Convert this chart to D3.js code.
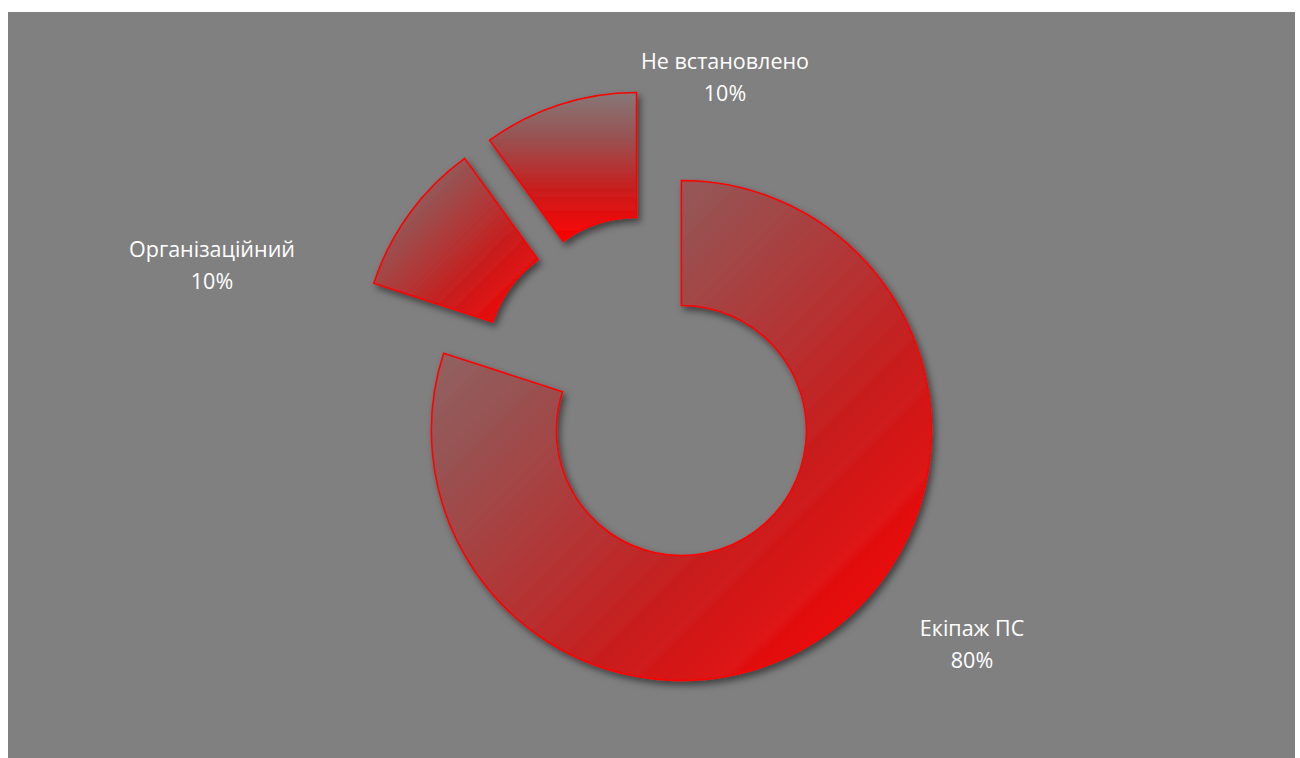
<!DOCTYPE html>
<html>
<head>
<meta charset="utf-8">
<script src="https://cdn.jsdelivr.net/npm/d3@7"></script>
<style>
  body { margin: 0; background: #fff; }
  text { font-family: "Open Sans", "Noto Sans", sans-serif; }
</style>
</head>
<body>
<div id="chart"></div>
<script>
// data
const categories = ["Екіпаж ПС", "Організаційний", "Не встановлено"];
const values = [80, 10, 10];

// label anchors (layout only, px)
const labelAnchor = [[972, 636], [212, 257], [725, 69]];
// gradient direction per slice
const gradDir = [[0, 0, 1, 1], [0, 0, 1, 1], [0, 0, 0, 1]];

const width = 1300, height = 758;
const cx = 652, cy = 390,
    outerR = 250, innerR = 125, explode = 50;

const svg = d3.select("#chart").append("svg")
    .attr("width", width)
    .attr("height", height);

const defs = svg.append("defs");

const shadow = defs.append("filter")
    .attr("id", "shadow")
    .attr("x", "-20%").attr("y", "-20%")
    .attr("width", "140%").attr("height", "140%");
shadow.append("feDropShadow")
    .attr("dx", 3).attr("dy", 4)
    .attr("stdDeviation", 3.5)
    .attr("flood-color", "#000")
    .attr("flood-opacity", 0.5);

gradDir.forEach(function (g, i) {
    const lg = defs.append("linearGradient")
        .attr("id", "grad" + i)
        .attr("x1", g[0]).attr("y1", g[1])
        .attr("x2", g[2]).attr("y2", g[3]);
    lg.append("stop").attr("offset", 0).attr("stop-color", "rgb(134,120,120)");
    lg.append("stop").attr("offset", 0.3).attr("stop-color", "rgb(152,82,82)");
    lg.append("stop").attr("offset", 0.65).attr("stop-color", "rgb(200,30,30)");
    lg.append("stop").attr("offset", 1).attr("stop-color", "rgb(255,0,0)");
});

svg.append("rect")
    .attr("x", 8)
    .attr("y", 12)
    .attr("width", 1287)
    .attr("height", 746)
    .attr("fill", "#808080");

const pie = d3.pie().sort(null).value(function (d) { return d; });
const arcs = pie(values);

const arc = d3.arc()
    .innerRadius(innerR)
    .outerRadius(outerR);

const g = svg.append("g")
    .attr("transform", "translate(" + cx + "," + cy + ")");

g.selectAll(".slice")
    .data(arcs)
    .enter().append("path")
    .attr("class", "slice")
    .attr("transform", function (d) {
        const a = (d.startAngle + d.endAngle) / 2;
        return "translate(" + (explode * Math.sin(a)) + "," + (-explode * Math.cos(a)) + ")";
    })
    .attr("d", arc)
    .attr("fill", function (d, i) { return "url(#grad" + i + ")"; })
    .attr("stroke", "#ff0000")
    .attr("stroke-width", 1.6)
    .attr("filter", "url(#shadow)");

const total = d3.sum(values);
const lbl = svg.selectAll(".label")
    .data(arcs)
    .enter().append("text")
    .attr("class", "label")
    .attr("text-anchor", "middle")
    .attr("fill", "#fff")
    .attr("font-size", "21.5px")
    .attr("x", function (d, i) { return labelAnchor[i][0]; })
    .attr("y", function (d, i) { return labelAnchor[i][1]; });

lbl.append("tspan")
    .attr("x", function (d, i) { return labelAnchor[i][0]; })
    .text(function (d, i) { return categories[i]; });
lbl.append("tspan")
    .attr("x", function (d, i) { return labelAnchor[i][0]; })
    .attr("dy", 31.5)
    .text(function (d) { return Math.round(d.value / total * 100) + "%"; });
</script>
</body>
</html>
